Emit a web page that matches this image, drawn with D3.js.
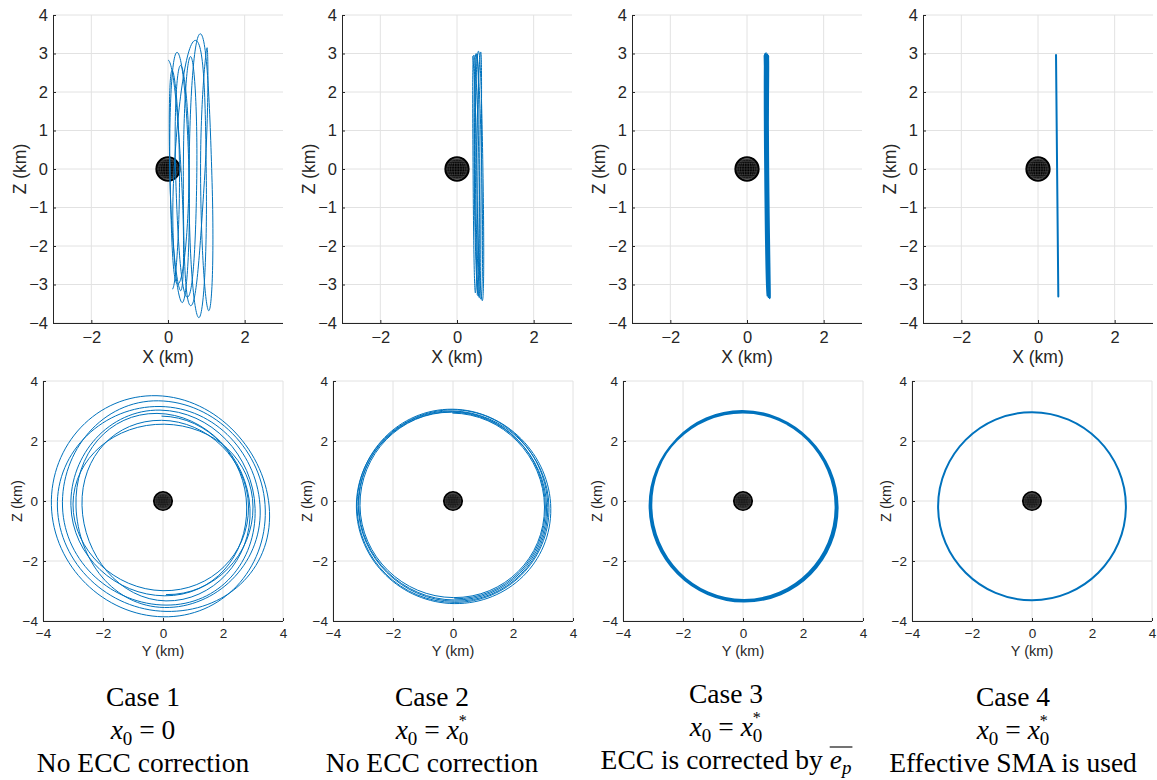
<!DOCTYPE html>
<html>
<head>
<meta charset="utf-8">
<script src="https://cdn.jsdelivr.net/npm/d3@7"></script>
<style>
  html, body { margin: 0; padding: 0; background: #fff; }
  svg { display: block; }
  text { white-space: pre; }
</style>
</head>
<body>
<svg id="chart" width="1157" height="780"></svg>
<script>
// Relative trajectories, one point per quarter orbit: [X, Y, Z] in km
// (top of orbit, +Y side, bottom, -Y side, ...). The first and last point of
// each open path only set the direction of travel at the ends.
const case1Path = [
  [-0.15, -2.90, -0.10],
  [0.00, -0.05, 2.83],
  [0.35, 2.79, -0.20], [0.33, 0.05, -3.16], [0.05, -3.07, -0.15], [0.24, -0.10, 3.03],
  [0.55, 3.07, -0.25], [0.37, 0.10, -3.47], [0.15, -3.35, -0.20], [0.72, -0.15, 3.34],
  [1.00, 3.41, -0.30], [0.80, 0.00, -3.86], [0.55, -3.72, -0.15], [0.85, -0.20, 3.51],
  [1.15, 3.55, -0.35], [1.06, 0.10, -3.68], [0.85, -3.52, -0.20], [1.02, -0.10, 3.15],
  [0.95, 3.24, -0.30], [0.59, 0.05, -3.55], [0.40, -2.90, -0.20], [0.59, -0.20, 2.92],
  [0.75, 2.90, -0.25], [0.50, 0.10, -3.33], [0.20, -2.70, -0.15], [0.33, -0.05, 2.69],
  [0.55, 2.85, -0.20], [0.25, 0.00, -2.99], [0.05, -3.00, -0.10], [0.11, 0.05, 2.56],
  [0.30, 3.00, -0.20], [0.11, 0.10, -3.12],
  [0.00, -2.90, -0.10]
];
const case2Path = [
  [0.38, -3.05, -0.15],
  [0.40, -0.02, 2.93],
  [0.52, 3.05, -0.20], [0.48, 0.02, -3.22], [0.42, -3.10, -0.15], [0.44, -0.05, 2.96],
  [0.58, 3.12, -0.20], [0.55, 0.05, -3.30], [0.45, -3.14, -0.15], [0.50, -0.03, 3.00],
  [0.65, 3.20, -0.22], [0.62, 0.04, -3.38], [0.48, -3.20, -0.18], [0.56, -0.02, 3.06],
  [0.68, 3.26, -0.25], [0.66, 0.06, -3.42], [0.52, -3.22, -0.20], [0.62, 0.00, 3.04],
  [0.63, 3.16, -0.22], [0.58, 0.05, -3.34], [0.46, -3.16, -0.15], [0.52, -0.02, 2.98],
  [0.58, 3.08, -0.20], [0.52, 0.04, -3.26],
  [0.45, -3.12, -0.15]
];
const case3Path = [
  [0.42, -3.04, -0.15],
  [0.44, -0.02, 2.96],
  [0.50, 3.08, -0.18], [0.53, 0.02, -3.29], [0.47, -3.05, -0.15], [0.47, -0.03, 2.99],
  [0.53, 3.13, -0.20], [0.56, 0.03, -3.33], [0.50, -3.09, -0.17], [0.50, -0.02, 3.01],
  [0.55, 3.16, -0.20], [0.59, 0.04, -3.36], [0.52, -3.12, -0.18], [0.54, -0.01, 2.98],
  [0.56, 3.12, -0.19], [0.60, 0.03, -3.34], [0.53, -3.10, -0.17], [0.56, 0.00, 2.94],
  [0.55, 3.10, -0.18], [0.58, 0.02, -3.31],
  [0.52, -3.08, -0.16]
];
const case4Path = [
  [0.47, 0.00, 2.96], [0.50, 3.13, -0.18], [0.53, 0.00, -3.31], [0.50, -3.13, -0.18]
];

const trajectories = [case1Path, case2Path, case3Path, case4Path];
const closedLoop = [false, false, false, true];
const lineWidths = [1.0, 1.0, 1.6, 2.0];

const caseTitles = ["Case 1", "Case 2", "Case 3", "Case 4"];
const caseNotes = ["No ECC correction", "No ECC correction", "ECC is corrected by ", "Effective SMA is used"];

// axis ticks
const xzTicksX = [-2, 0, 2];
const xzTicksZ = [-4, -3, -2, -1, 0, 1, 2, 3, 4];
const yzTicks = [-4, -2, 0, 2, 4];
const targetRadius = 0.31;   // km

const BLUE = "#0072BD";
const INK = "#262626";
const GRID = "#e2e2e2";
const SANS = "'Liberation Sans', Arial, Helvetica, sans-serif";
const SERIF = "'Liberation Serif', 'Times New Roman', serif";

const svg = d3.select("#chart");

// layout of the two rows
const topRow = { lefts: [53, 342, 632, 923], width: 230, top: 15, bottom: 323,
                 xDomain: [-3, 3], xTicks: xzTicksX, yTicks: xzTicksZ,
                 tickFont: 16.5, labelFont: 17.5, xLabel: "X (km)", hIndex: 0,
                 tickGap: 14, labelGap: 40, yLabelOff: 33 };
const botRow = { lefts: [43, 333, 623, 912], width: 240, top: 381, bottom: 621,
                 xDomain: [-4, 4], xTicks: yzTicks, yTicks: yzTicks,
                 tickFont: 13.5, labelFont: 14.5, xLabel: "Y (km)", hIndex: 1,
                 tickGap: 12, labelGap: 35, yLabelOff: 26 };

function drawTarget(g, sx, sy) {
  const cx = sx(0), cy = sy(0), R = sx(targetRadius) - sx(0);
  g.append("circle").attr("cx", cx).attr("cy", cy).attr("r", R).attr("fill", "#000");
  const mesh = g.append("g").attr("stroke", "#5c5c5c").attr("stroke-width", 0.45).attr("fill", "none");
  d3.range(-75, 90, 15).forEach(lat => {
    const a = lat * Math.PI / 180;
    const hw = R * Math.cos(a) * 0.9, yy = cy - R * Math.sin(a) * 0.9;
    mesh.append("line").attr("x1", cx - hw).attr("x2", cx + hw).attr("y1", yy).attr("y2", yy);
  });
  d3.range(0, 90, 15).forEach(lon => {
    const rx = R * Math.sin(lon * Math.PI / 180) * 0.9;
    if (rx < 0.3) {
      mesh.append("line").attr("x1", cx).attr("x2", cx).attr("y1", cy - R * 0.9).attr("y2", cy + R * 0.9);
    } else {
      mesh.append("ellipse").attr("cx", cx).attr("cy", cy).attr("rx", rx).attr("ry", R * 0.9);
    }
  });
  g.append("circle").attr("cx", cx).attr("cy", cy).attr("r", R)
    .attr("fill", "none").attr("stroke", "#000").attr("stroke-width", 1.5);
}

function drawPanel(row, i) {
  const left = row.lefts[i];
  const sx = d3.scaleLinear().domain(row.xDomain).range([left, left + row.width]);
  const sy = d3.scaleLinear().domain([-4, 4]).range([row.bottom, row.top]);
  const g = svg.append("g");

  // grid
  const grid = g.append("g").attr("stroke", GRID).attr("stroke-width", 1);
  row.xTicks.forEach(t => grid.append("line")
    .attr("x1", sx(t)).attr("x2", sx(t)).attr("y1", row.top).attr("y2", row.bottom));
  row.yTicks.forEach(t => grid.append("line")
    .attr("x1", left).attr("x2", left + row.width).attr("y1", sy(t)).attr("y2", sy(t)));

  // axes (inward ticks, no box)
  const xAxis = d3.axisBottom(sx).tickValues(row.xTicks).tickSize(-3).tickFormat(d3.format("d"));
  const yAxis = d3.axisLeft(sy).tickValues(row.yTicks).tickSize(-3).tickFormat(d3.format("d"));
  const gx = g.append("g").attr("transform", `translate(0,${row.bottom})`).call(xAxis);
  const gy = g.append("g").attr("transform", `translate(${left},0)`).call(yAxis);
  [gx, gy].forEach(a => {
    a.select(".domain").attr("stroke", INK).attr("stroke-width", 1)
      .attr("d", a === gx ? `M${left},0.5H${left + row.width}` : `M0.5,${row.bottom}V${row.top}`);
    a.selectAll(".tick line").attr("stroke", INK);
    a.selectAll(".tick text").attr("fill", INK).attr("font-family", SANS)
      .attr("font-size", row.tickFont);
  });
  gx.selectAll(".tick text").attr("dy", "0.35em").attr("y", row.tickGap);
  gy.selectAll(".tick text").attr("x", -5);

  // axis titles
  g.append("text").attr("x", left + row.width / 2).attr("y", row.bottom + row.labelGap)
    .attr("text-anchor", "middle").attr("font-family", SANS).attr("font-size", row.labelFont)
    .attr("fill", INK).text(row.xLabel);
  const midY = (row.top + row.bottom) / 2;
  g.append("text").attr("transform", `translate(${left - row.yLabelOff},${midY}) rotate(-90)`)
    .attr("text-anchor", "middle").attr("dy", "0.35em").attr("font-family", SANS)
    .attr("font-size", row.labelFont).attr("fill", INK).text("Z (km)");

  drawTarget(g, sx, sy);

  // trajectory projected on (X,Z) or (Y,Z)
  const curve = closedLoop[i] ? d3.curveCardinalClosed.tension(-0.65) : d3.curveCardinalOpen.tension(-0.65);
  const line = d3.line().x(d => sx(d[row.hIndex])).y(d => sy(d[2])).curve(curve);
  g.append("path").datum(trajectories[i]).attr("d", line)
    .attr("fill", "none").attr("stroke", BLUE).attr("stroke-width", lineWidths[i])
    .attr("stroke-linejoin", "round");
}

[0, 1, 2, 3].forEach(i => { drawPanel(topRow, i); drawPanel(botRow, i); });

// captions
const captionX = [143, 432, 726, 1013];
const captionShift = [0, 0, -3, 0];
const CAP = 27.5, SUB = 19, SUP = 16;

caseTitles.forEach((title, i) => {
  const cx = captionX[i], b = 706 + captionShift[i];
  const cap = svg.append("g").attr("font-family", SERIF).attr("fill", "#000").attr("text-anchor", "middle");
  cap.append("text").attr("x", cx).attr("y", b).attr("font-size", CAP).text(title);

  const eq = cap.append("text").attr("x", cx).attr("y", b + 33).attr("font-size", CAP);
  eq.append("tspan").attr("font-style", "italic").text("x");
  eq.append("tspan").attr("font-size", SUB).attr("dy", 6).text("0");
  if (i === 0) {
    eq.append("tspan").attr("dy", -6).text(" = 0");
  } else {
    eq.append("tspan").attr("dy", -6).text(" = ");
    eq.append("tspan").attr("font-style", "italic").text("x");
    eq.append("tspan").attr("font-size", SUB).attr("dy", 6).text("0");
    // superscript star stacked over the last subscript
    const node = eq.node();
    const k = node.getNumberOfChars() - 1;
    const sx0 = node.getStartPositionOfChar(k).x;
    cap.append("text").attr("x", sx0).attr("y", b + 33 - 13)
      .attr("text-anchor", "start").attr("font-size", SUP).text("*");
  }

  const note = cap.append("text").attr("x", cx).attr("y", b + 66).attr("font-size", CAP);
  note.append("tspan").text(caseNotes[i]);
  if (i === 2) {
    note.append("tspan").attr("font-style", "italic").text("e");
    note.append("tspan").attr("font-style", "italic").attr("font-size", SUB).attr("dy", 5).text("p");
    const n = caseNotes[i].length;
    const node = note.node();
    const x0 = node.getStartPositionOfChar(n).x;
    const x1 = node.getEndPositionOfChar(n + 1).x;
    cap.append("line").attr("x1", x0).attr("x2", x1 + 1)
      .attr("y1", b + 66 - 22).attr("y2", b + 66 - 22)
      .attr("stroke", "#000").attr("stroke-width", 1.1);
  }
});
</script>
</body>
</html>
